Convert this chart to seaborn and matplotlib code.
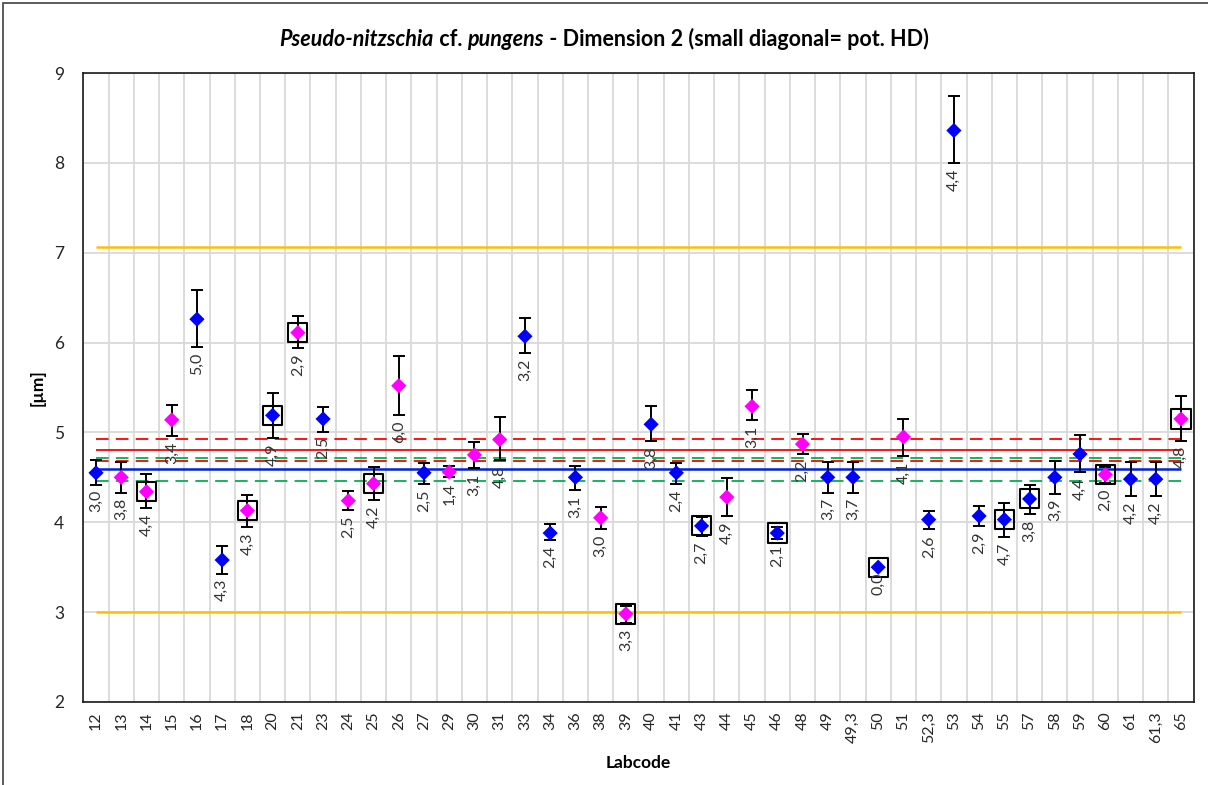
import numpy as np
import pandas as pd
import matplotlib
matplotlib.use("Agg")
import matplotlib.pyplot as plt
from matplotlib.patches import Rectangle
from matplotlib.offsetbox import TextArea, HPacker, AnchoredOffsetbox
import seaborn as sns

# Data
labcodes = ["12", "13", "14", "15", "16", "17", "18", "20", "21", "23", "24", "25",
            "26", "27", "29", "30", "31", "33", "34", "36", "38", "39", "40", "41",
            "43", "44", "45", "46", "48", "49", "49,3", "50", "51", "52,3", "53", "54",
            "55", "57", "58", "59", "60", "61", "61,3", "65"]
means = [4.55, 4.50, 4.34, 5.14, 6.26, 3.58, 4.13, 5.19, 6.11, 5.15, 4.24, 4.43,
         5.52, 4.55, 4.56, 4.75, 4.92, 6.07, 3.88, 4.50, 4.05, 2.98, 5.09, 4.55,
         3.96, 4.28, 5.29, 3.88, 4.87, 4.50, 4.50, 3.50, 4.95, 4.03, 8.36, 4.07,
         4.03, 4.26, 4.50, 4.76, 4.53, 4.48, 4.48, 5.15]
upper = [4.69, 4.67, 4.54, 5.31, 6.59, 3.74, 4.30, 5.44, 6.30, 5.28, 4.35, 4.61,
         5.85, 4.66, 4.63, 4.89, 5.17, 6.27, 3.98, 4.63, 4.17, 3.07, 5.29, 4.66,
         4.06, 4.49, 5.47, 3.95, 4.98, 4.67, 4.67, 3.50, 5.15, 4.13, 8.74, 4.18,
         4.22, 4.42, 4.68, 4.97, 4.61, 4.67, 4.67, 5.41]
lower = [4.42, 4.33, 4.16, 4.96, 5.95, 3.43, 3.95, 4.94, 5.94, 5.01, 4.14, 4.25,
         5.19, 4.43, 4.50, 4.60, 4.69, 5.88, 3.80, 4.36, 3.93, 2.88, 4.90, 4.43,
         3.85, 4.07, 5.14, 3.81, 4.76, 4.33, 4.33, 3.50, 4.74, 3.92, 8.00, 3.96,
         3.84, 4.09, 4.32, 4.56, 4.44, 4.29, 4.29, 4.91]
group = ["B", "M", "M", "M", "B", "B", "M", "B", "M", "B", "M", "M",
         "M", "B", "M", "M", "M", "B", "B", "B", "M", "M", "B", "B",
         "B", "M", "M", "B", "M", "B", "B", "B", "M", "B", "B", "B",
         "B", "B", "B", "B", "M", "B", "B", "M"]
boxed_labs = ["14", "18", "20", "21", "25", "39", "43", "46", "50", "55", "57", "60", "65"]
cv_labels = ["3,0", "3,8", "4,4", "3,4", "5,0", "4,3", "4,3", "4,9", "2,9", "2,5", "2,5", "4,2",
             "6,0", "2,5", "1,4", "3,1", "4,8", "3,2", "2,4", "3,1", "3,0", "3,3", "3,8", "2,4",
             "2,7", "4,9", "3,1", "2,1", "2,2", "3,7", "3,7", "0,0", "4,1", "2,6", "4,4", "2,9",
             "4,7", "3,8", "3,9", "4,4", "2,0", "4,2", "4,2", "4,8"]

# reference lines
assigned = 4.59
assigned_unc = [4.72, 4.46]
mean_all = 4.81
mean_unc = [4.93, 4.68]
limits = [7.06, 3.00]

df = pd.DataFrame({"lab": labcodes, "mean": means, "lo": lower, "hi": upper,
                   "group": group, "label": cv_labels})
df["x"] = np.arange(len(df))
df["boxed"] = df["lab"].isin(boxed_labs)

W, H = 1208, 785
fig = plt.figure(figsize=(W / 100, H / 100), dpi=100)
plt.rcParams["font.family"] = ["Lato", "DejaVu Sans"]
ax = fig.add_axes([83.4 / W, (H - 702) / H, (1193.6 - 83.4) / W, (702 - 73) / H])

n = len(df)
ax.set_xlim(-0.5, n - 0.5)
ax.set_ylim(2, 9)

# grid
ax.set_xticks(df["x"])
ax.set_xticklabels(labcodes, rotation=90, fontsize=11.5, color="#262626")
ax.set_xticks(np.arange(-0.5, n, 1), minor=True)
ax.set_yticks(range(2, 10))
ax.set_yticklabels([str(v) for v in range(2, 10)], fontsize=12.5, color="#262626")
ax.grid(which="minor", axis="x", color="#d9d9d9", lw=1.3)
ax.grid(which="major", axis="y", color="#d9d9d9", lw=1.3)
ax.set_axisbelow(True)
ax.tick_params(which="both", length=0)
ax.tick_params(axis="x", pad=7)
ax.tick_params(axis="y", pad=14)
for sp in ax.spines.values():
    sp.set_color("#1a1a1a")
    sp.set_linewidth(1.2)

# horizontal reference lines
x0, x1 = 0, n - 1
ax.hlines(limits, x0, x1, colors="#FFC000", lw=1.8, zorder=2)
ax.hlines(assigned_unc, x0, x1, colors="#00B050", lw=1.3, linestyles=(0, (7, 4)), zorder=2)
ax.hlines(mean_unc, x0, x1, colors="#FF0000", lw=1.3, linestyles=(0, (7, 4)), zorder=2)
ax.hlines(mean_all, x0, x1, colors="#FF0000", lw=1.3, zorder=2)
ax.hlines(assigned, x0, x1, colors="#0022DD", lw=1.8, zorder=2)

# boxes behind outlying labs
sns.scatterplot(data=df[df["boxed"]], x="x", y="mean", marker="s", s=190,
                facecolor="none", edgecolor="black", linewidth=1.5, ax=ax, zorder=3, legend=False)

# error bars
ax.errorbar(df["x"], df["mean"], yerr=[df["mean"] - df["lo"], df["hi"] - df["mean"]],
            fmt="none", ecolor="black", elinewidth=1.4, capsize=4, capthick=1.4, zorder=4)

# lab means
sns.scatterplot(data=df, x="x", y="mean", hue="group", palette={"B": "#0000FF", "M": "#FF00FF"},
                marker="D", s=60, edgecolor="none", ax=ax, zorder=5, legend=False)

# CV labels under the error bars
for _, r in df.iterrows():
    ax.annotate(r["label"], (r["x"], r["lo"]), xytext=(0, -4), textcoords="offset points",
                rotation=90, ha="center", va="top", fontsize=11.5, color="#333333", zorder=6)

ax.set_xlabel("Labcode", fontsize=12.5, fontweight="bold", labelpad=8)
ax.set_ylabel("[µm]", fontsize=12.5, fontweight="bold", labelpad=6)

# title with italic species name
parts = [("Pseudo-nitzschia", "italic"), (" cf. ", "normal"), ("pungens", "italic"),
         (" - Dimension 2 (small diagonal= pot. HD)", "normal")]
boxes = [TextArea(t, textprops=dict(fontstyle=s, fontweight="bold", fontsize=15.5, color="black"))
         for t, s in parts]
pack = HPacker(children=boxes, align="baseline", pad=0, sep=0)
title = AnchoredOffsetbox(loc="center", child=pack, pad=0, borderpad=0, frameon=False,
                          bbox_to_anchor=(0.5, 1 - 39 / H), bbox_transform=fig.transFigure)
fig.add_artist(title)

# chart frame
fig.add_artist(Rectangle((3 / W, -0.1), 1.2, (H - 3) / H + 0.1, transform=fig.transFigure,
                         fill=False, edgecolor="#404040", lw=1.2))

fig.savefig("out.png", dpi=100)
